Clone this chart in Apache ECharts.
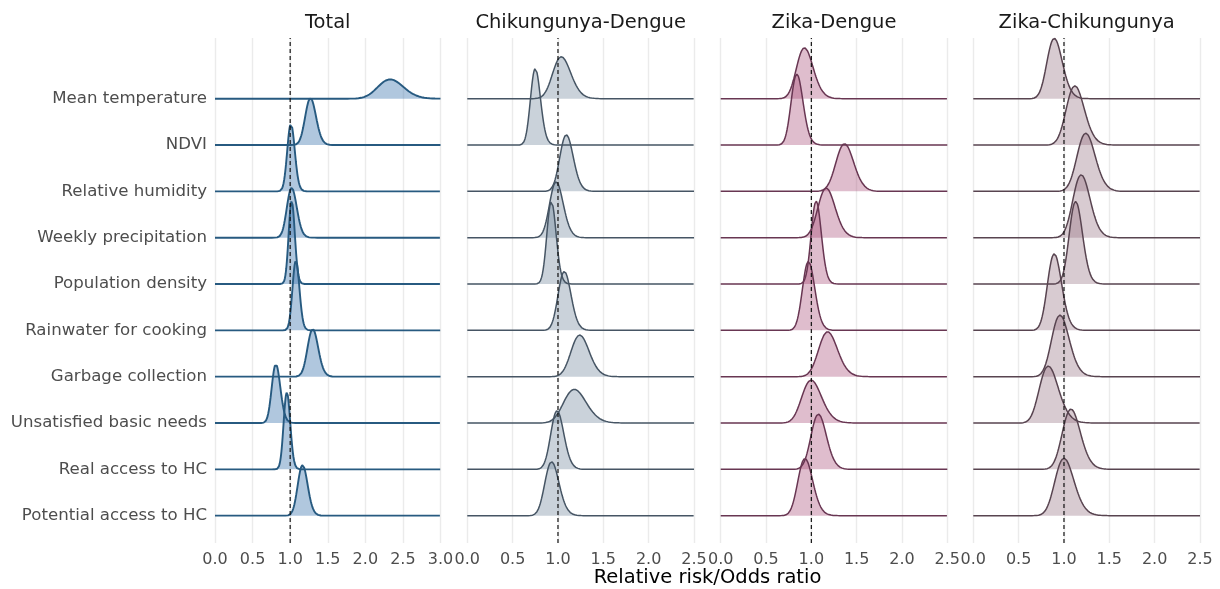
<!DOCTYPE html>
<html><head><meta charset="utf-8">
<script src="https://cdn.jsdelivr.net/npm/echarts@6/dist/echarts.min.js"></script>
<style>html,body{margin:0;padding:0;background:#fff}#c{width:1220px;height:589px}</style>
</head><body><div id="c"></div>
<script>
// ---- data ----
const variables = ["Mean temperature","NDVI","Relative humidity","Weekly precipitation","Population density","Rainwater for cooking","Garbage collection","Unsatisfied basic needs","Real access to HC","Potential access to HC"];
const panels = ["Total","Chikungunya-Dengue","Zika-Dengue","Zika-Chikungunya"];
const xMaxes = [3.0, 2.5, 2.5, 2.5];
const xTickStep = 0.5;
const refLine = 1.0;

// peak (mode) of each posterior, spread (sd, x units), relative peak density (1 = tallest in panel)
const totalPeak   = [2.33, 1.27, 1.01, 1.02, 1.02, 1.076, 1.30, 0.81, 0.956, 1.165];
const totalSpread = [0.17, 0.072, 0.05, 0.066, 0.041, 0.046, 0.071, 0.057, 0.044, 0.066];
const totalDens   = [0.233, 0.566, 0.816, 0.602, 1.0, 0.843, 0.575, 0.711, 0.928, 0.611];

const cdPeak   = [1.037, 0.75, 1.092, 0.98, 0.927, 1.07, 1.24, 1.18, 0.99, 0.93];
const cdSpread = [0.10, 0.055, 0.074, 0.075, 0.051, 0.071, 0.10, 0.125, 0.072, 0.078];
const cdDens   = [0.506, 0.924, 0.683, 0.675, 0.996, 0.711, 0.502, 0.406, 0.707, 0.651];

const zdPeak   = [0.924, 0.84, 1.366, 1.164, 1.053, 0.968, 1.18, 0.998, 1.078, 0.93];
const zdSpread = [0.092, 0.066, 0.098, 0.095, 0.056, 0.068, 0.104, 0.109, 0.085, 0.082];
const zdDens   = [0.614, 0.855, 0.575, 0.599, 1.0, 0.831, 0.542, 0.518, 0.666, 0.69];

const zcPeak   = [0.893, 1.12, 1.24, 1.19, 1.129, 0.893, 0.956, 0.827, 1.077, 1.0];
const zcSpread = [0.085, 0.10, 0.10, 0.095, 0.073, 0.078, 0.097, 0.105, 0.10, 0.105];
const zcDens   = [0.728, 0.714, 0.702, 0.759, 0.996, 0.924, 0.743, 0.687, 0.727, 0.692];

// ---- styles / layout ----
const peaks = [totalPeak, cdPeak, zdPeak, zcPeak];
const spreads = [totalSpread, cdSpread, zdSpread, zcSpread];
const dens = [totalDens, cdDens, zdDens, zcDens];
const lineColors = ['#275a80', '#465564', '#683652', '#584450'];
const fillColors = ['rgba(50,108,170,0.55)', 'rgba(105,128,151,0.5)', 'rgba(165,68,112,0.5)', 'rgba(145,108,126,0.5)'];
const gridLefts = [215, 467.3, 720.7, 973.3];
const gridWidths = [225.5, 226.7, 226.6, 226.7];
const GRID_TOP = 38, GRID_H = 505;
const Y_MIN = -0.59, Y_MAX = 10.31;
const RIDGE_SCALE = 1.79; // height of tallest ridge, in rows
const FONT = 'DejaVu Sans';

const grids = [], xAxes = [], yAxes = [], series = [], graphics = [];
const n = variables.length;

panels.forEach((name, p) => {
  grids.push({left: gridLefts[p], top: GRID_TOP, width: gridWidths[p], height: GRID_H, containLabel: false});
  xAxes.push({
    type: 'value', gridIndex: p, min: 0, max: xMaxes[p], interval: xTickStep,
    axisLine: {show: false}, axisTick: {show: false},
    splitLine: {show: true, lineStyle: {color: '#ebebeb', width: 1.4}},
    axisLabel: {show: true, color: '#4d4d4d', fontSize: 16, fontFamily: FONT, margin: 9,
      showMinLabel: true, showMaxLabel: true, formatter: v => v.toFixed(1)}
  });
  yAxes.push({
    type: 'value', gridIndex: p, min: Y_MIN, max: Y_MAX,
    axisLine: {show: false}, axisTick: {show: false}, splitLine: {show: false},
    axisLabel: p === 0 ? {show: true, color: '#4d4d4d', fontSize: 16.6, fontFamily: FONT, margin: 8,
      customValues: variables.map((_, i) => n - 1 - i),
      formatter: v => variables[n - 1 - Math.round(v)]} : {show: false}
  });
  // sample points along the axis
  const xs = [];
  const step = 0.004;
  for (let x = 0; x <= xMaxes[p] + 1e-9; x += step) xs.push(+x.toFixed(4));
  variables.forEach((v, i) => {
    const base = n - 1 - i;
    const pk = peaks[p][i], s = spreads[p][i] / pk, h = dens[p][i] * RIDGE_SCALE;
    const data = xs.map(x => {
      const d = x <= 0 ? 0 : h * Math.exp(-Math.pow(Math.log(x / pk), 2) / (2 * s * s));
      return [x, base + d];
    });
    series.push({
      type: 'line', name: panels[p] + ' ' + v, xAxisIndex: p, yAxisIndex: p,
      data: data, showSymbol: false, symbol: 'none', smooth: false, silent: true,
      lineStyle: {color: lineColors[p], width: p === 0 ? 1.9 : 1.5},
      areaStyle: {color: fillColors[p], origin: base}, z: 2
    });
  });
  series.push({
    type: 'line', xAxisIndex: p, yAxisIndex: p, data: [[refLine, Y_MIN], [refLine, Y_MAX]],
    showSymbol: false, symbol: 'none', silent: true,
    lineStyle: {color: '#111', width: 1.2, type: [4, 3]}, z: 5
  });
  graphics.push({type: 'text', x: gridLefts[p] + gridWidths[p] / 2, y: 23,
    style: {text: name, font: '19.5px "DejaVu Sans"', fill: '#1a1a1a', align: 'center', verticalAlign: 'middle'}});
});

graphics.push({type: 'text', x: 707.5, y: 578,
  style: {text: 'Relative risk/Odds ratio', font: '19.5px "DejaVu Sans"', fill: '#000', align: 'center', verticalAlign: 'middle'}});

const chart = echarts.init(document.getElementById('c'), null, {renderer: 'canvas'});
chart.setOption({
  animation: false,
  backgroundColor: '#fff',
  textStyle: {fontFamily: FONT},
  grid: grids, xAxis: xAxes, yAxis: yAxes, series: series, graphic: graphics
});
</script></body></html>
